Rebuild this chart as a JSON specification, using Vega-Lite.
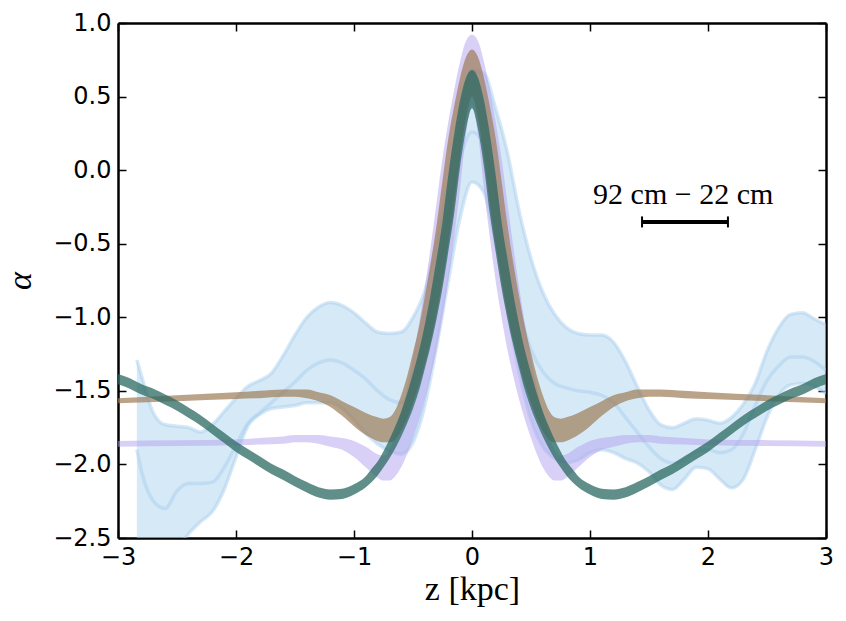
{
  "$schema": "https://vega.github.io/schema/vega-lite/v6.json",
  "width": 708,
  "height": 515,
  "autosize": "none",
  "padding": {"left": 118, "top": 23, "right": 20, "bottom": 83},
  "background": "white",
  "config": {
    "view": {"stroke": null},
    "axis": {
      "zindex": 1,
      "grid": false,
      "domain": true,
      "domainColor": "black",
      "domainWidth": 2.5,
      "ticks": true,
      "tickColor": "black",
      "tickWidth": 1.5,
      "tickSize": -8,
      "labelColor": "black",
      "labelFont": "DejaVu Sans",
      "labelFontSize": 24,
      "labelPadding": 15,
      "labelFlush": false,
      "labelOverlap": false,
      "labelBound": false,
      "titleColor": "black",
      "titleFont": "Liberation Serif",
      "titleFontWeight": "normal"
    }
  },
  "datasets": {
    "blue": [
      {"x": -2.84, "lo": -2.95, "mid": -1.9, "hi": -1.29},
      {"x": -2.8, "lo": -2.9, "mid": -2.05, "hi": -1.4},
      {"x": -2.7, "lo": -2.8, "mid": -2.25, "hi": -1.65},
      {"x": -2.6, "lo": -2.7, "mid": -2.3, "hi": -1.73},
      {"x": -2.5, "lo": -2.58, "mid": -2.18, "hi": -1.74},
      {"x": -2.4, "lo": -2.47, "mid": -2.13, "hi": -1.75},
      {"x": -2.3, "lo": -2.39, "mid": -2.13, "hi": -1.78},
      {"x": -2.2, "lo": -2.32, "mid": -2.12, "hi": -1.73},
      {"x": -2.1, "lo": -2.17, "mid": -2.02, "hi": -1.64},
      {"x": -2.0, "lo": -1.95, "mid": -1.87, "hi": -1.55},
      {"x": -1.9, "lo": -1.74, "mid": -1.72, "hi": -1.47},
      {"x": -1.8, "lo": -1.66, "mid": -1.65, "hi": -1.43},
      {"x": -1.7, "lo": -1.62, "mid": -1.58, "hi": -1.38},
      {"x": -1.6, "lo": -1.61, "mid": -1.51, "hi": -1.26},
      {"x": -1.5, "lo": -1.6, "mid": -1.44, "hi": -1.12},
      {"x": -1.4, "lo": -1.58, "mid": -1.36, "hi": -1.0},
      {"x": -1.3, "lo": -1.58, "mid": -1.31, "hi": -0.93},
      {"x": -1.2, "lo": -1.58, "mid": -1.29, "hi": -0.9},
      {"x": -1.1, "lo": -1.62, "mid": -1.31, "hi": -0.92},
      {"x": -1.0, "lo": -1.7, "mid": -1.36, "hi": -0.97},
      {"x": -0.9, "lo": -1.79, "mid": -1.42, "hi": -1.04},
      {"x": -0.8, "lo": -1.86, "mid": -1.5, "hi": -1.1},
      {"x": -0.7, "lo": -1.91, "mid": -1.56, "hi": -1.11},
      {"x": -0.6, "lo": -1.93, "mid": -1.58, "hi": -1.1},
      {"x": -0.5, "lo": -1.85, "mid": -1.45, "hi": -1.0},
      {"x": -0.4, "lo": -1.6, "mid": -1.15, "hi": -0.82},
      {"x": -0.3, "lo": -1.2, "mid": -0.75, "hi": -0.48},
      {"x": -0.2, "lo": -0.75, "mid": -0.3, "hi": -0.08},
      {"x": -0.1, "lo": -0.32, "mid": 0.08, "hi": 0.38},
      {"x": 0.0, "lo": -0.08, "mid": 0.26, "hi": 0.68},
      {"x": 0.1, "lo": -0.15, "mid": 0.18, "hi": 0.66},
      {"x": 0.2, "lo": -0.5, "mid": -0.15, "hi": 0.42},
      {"x": 0.3, "lo": -0.95, "mid": -0.55, "hi": 0.12},
      {"x": 0.4, "lo": -1.38, "mid": -0.95, "hi": -0.28},
      {"x": 0.5, "lo": -1.7, "mid": -1.22, "hi": -0.6},
      {"x": 0.6, "lo": -1.88, "mid": -1.37, "hi": -0.83},
      {"x": 0.7, "lo": -1.96, "mid": -1.45, "hi": -0.98},
      {"x": 0.8, "lo": -1.99, "mid": -1.48, "hi": -1.07},
      {"x": 0.9, "lo": -1.97, "mid": -1.5, "hi": -1.11},
      {"x": 1.0, "lo": -1.92, "mid": -1.51, "hi": -1.12},
      {"x": 1.1, "lo": -1.9, "mid": -1.53, "hi": -1.12},
      {"x": 1.2, "lo": -1.92, "mid": -1.58, "hi": -1.17},
      {"x": 1.3, "lo": -1.96, "mid": -1.68, "hi": -1.3},
      {"x": 1.4, "lo": -1.99, "mid": -1.78, "hi": -1.47},
      {"x": 1.5, "lo": -2.05, "mid": -1.88, "hi": -1.63},
      {"x": 1.6, "lo": -2.14, "mid": -1.96, "hi": -1.73},
      {"x": 1.7, "lo": -2.17, "mid": -1.99, "hi": -1.75},
      {"x": 1.8, "lo": -2.1, "mid": -1.97, "hi": -1.72},
      {"x": 1.9, "lo": -2.02, "mid": -1.91, "hi": -1.69},
      {"x": 2.0, "lo": -2.03, "mid": -1.9, "hi": -1.7},
      {"x": 2.1, "lo": -2.1, "mid": -1.92, "hi": -1.72},
      {"x": 2.2, "lo": -2.16, "mid": -1.9, "hi": -1.68},
      {"x": 2.3, "lo": -2.1, "mid": -1.79, "hi": -1.59},
      {"x": 2.4, "lo": -1.9, "mid": -1.6, "hi": -1.45},
      {"x": 2.5, "lo": -1.68, "mid": -1.43, "hi": -1.23},
      {"x": 2.6, "lo": -1.53, "mid": -1.33, "hi": -1.07},
      {"x": 2.7, "lo": -1.46, "mid": -1.27, "hi": -0.98},
      {"x": 2.8, "lo": -1.45, "mid": -1.27, "hi": -0.97},
      {"x": 2.9, "lo": -1.47, "mid": -1.3, "hi": -1.01},
      {"x": 3.0, "lo": -1.52, "mid": -1.36, "hi": -1.05}
    ],
    "purple": [
      {"x": -3.0, "lo": -1.88, "hi": -1.84},
      {"x": -2.5, "lo": -1.875, "hi": -1.835},
      {"x": -2.0, "lo": -1.87, "hi": -1.83},
      {"x": -1.8, "lo": -1.865, "hi": -1.82},
      {"x": -1.6, "lo": -1.86, "hi": -1.81},
      {"x": -1.5, "lo": -1.85, "hi": -1.8},
      {"x": -1.4, "lo": -1.85, "hi": -1.8},
      {"x": -1.3, "lo": -1.86, "hi": -1.8},
      {"x": -1.2, "lo": -1.88, "hi": -1.81},
      {"x": -1.1, "lo": -1.9, "hi": -1.82},
      {"x": -1.0, "lo": -1.95, "hi": -1.84},
      {"x": -0.9, "lo": -2.02, "hi": -1.88},
      {"x": -0.8, "lo": -2.09, "hi": -1.93},
      {"x": -0.75, "lo": -2.11, "hi": -1.94},
      {"x": -0.7, "lo": -2.11, "hi": -1.9},
      {"x": -0.65, "lo": -2.08, "hi": -1.8},
      {"x": -0.6, "lo": -2.02, "hi": -1.65},
      {"x": -0.55, "lo": -1.93, "hi": -1.48},
      {"x": -0.5, "lo": -1.82, "hi": -1.28},
      {"x": -0.45, "lo": -1.7, "hi": -1.05},
      {"x": -0.4, "lo": -1.56, "hi": -0.8},
      {"x": -0.35, "lo": -1.4, "hi": -0.52},
      {"x": -0.3, "lo": -1.22, "hi": -0.22},
      {"x": -0.25, "lo": -1.0, "hi": 0.08},
      {"x": -0.2, "lo": -0.75, "hi": 0.33},
      {"x": -0.15, "lo": -0.45, "hi": 0.55},
      {"x": -0.1, "lo": -0.12, "hi": 0.74},
      {"x": -0.05, "lo": 0.25, "hi": 0.88},
      {"x": 0.0, "lo": 0.45, "hi": 0.92},
      {"x": 0.05, "lo": 0.25, "hi": 0.88},
      {"x": 0.1, "lo": -0.12, "hi": 0.74},
      {"x": 0.15, "lo": -0.45, "hi": 0.55},
      {"x": 0.2, "lo": -0.75, "hi": 0.33},
      {"x": 0.25, "lo": -1.0, "hi": 0.08},
      {"x": 0.3, "lo": -1.22, "hi": -0.22},
      {"x": 0.35, "lo": -1.4, "hi": -0.52},
      {"x": 0.4, "lo": -1.56, "hi": -0.8},
      {"x": 0.45, "lo": -1.7, "hi": -1.05},
      {"x": 0.5, "lo": -1.82, "hi": -1.28},
      {"x": 0.55, "lo": -1.93, "hi": -1.48},
      {"x": 0.6, "lo": -2.02, "hi": -1.65},
      {"x": 0.65, "lo": -2.08, "hi": -1.8},
      {"x": 0.7, "lo": -2.11, "hi": -1.9},
      {"x": 0.75, "lo": -2.11, "hi": -1.94},
      {"x": 0.8, "lo": -2.09, "hi": -1.93},
      {"x": 0.9, "lo": -2.02, "hi": -1.88},
      {"x": 1.0, "lo": -1.95, "hi": -1.84},
      {"x": 1.1, "lo": -1.9, "hi": -1.82},
      {"x": 1.2, "lo": -1.88, "hi": -1.81},
      {"x": 1.3, "lo": -1.86, "hi": -1.8},
      {"x": 1.4, "lo": -1.85, "hi": -1.8},
      {"x": 1.5, "lo": -1.85, "hi": -1.8},
      {"x": 1.6, "lo": -1.86, "hi": -1.81},
      {"x": 1.8, "lo": -1.865, "hi": -1.82},
      {"x": 2.0, "lo": -1.87, "hi": -1.83},
      {"x": 2.5, "lo": -1.875, "hi": -1.835},
      {"x": 3.0, "lo": -1.88, "hi": -1.84}
    ],
    "tan": [
      {"x": -3.0, "lo": -1.585, "hi": -1.55},
      {"x": -2.5, "lo": -1.57, "hi": -1.53},
      {"x": -2.0, "lo": -1.555, "hi": -1.51},
      {"x": -1.8, "lo": -1.55, "hi": -1.5},
      {"x": -1.6, "lo": -1.54, "hi": -1.49},
      {"x": -1.5, "lo": -1.54, "hi": -1.49},
      {"x": -1.4, "lo": -1.55, "hi": -1.49},
      {"x": -1.3, "lo": -1.57, "hi": -1.51},
      {"x": -1.2, "lo": -1.61, "hi": -1.53},
      {"x": -1.1, "lo": -1.67, "hi": -1.57},
      {"x": -1.0, "lo": -1.74, "hi": -1.61},
      {"x": -0.9, "lo": -1.8, "hi": -1.65},
      {"x": -0.8, "lo": -1.84, "hi": -1.68},
      {"x": -0.75, "lo": -1.85, "hi": -1.69},
      {"x": -0.7, "lo": -1.85, "hi": -1.68},
      {"x": -0.65, "lo": -1.83, "hi": -1.63},
      {"x": -0.6, "lo": -1.77, "hi": -1.53},
      {"x": -0.55, "lo": -1.69, "hi": -1.4},
      {"x": -0.5, "lo": -1.58, "hi": -1.24},
      {"x": -0.45, "lo": -1.46, "hi": -1.07},
      {"x": -0.4, "lo": -1.32, "hi": -0.86},
      {"x": -0.35, "lo": -1.16, "hi": -0.63},
      {"x": -0.3, "lo": -0.97, "hi": -0.37},
      {"x": -0.25, "lo": -0.75, "hi": -0.07},
      {"x": -0.2, "lo": -0.5, "hi": 0.22},
      {"x": -0.15, "lo": -0.22, "hi": 0.44},
      {"x": -0.1, "lo": 0.1, "hi": 0.63},
      {"x": -0.05, "lo": 0.36, "hi": 0.77},
      {"x": 0.0, "lo": 0.5, "hi": 0.82},
      {"x": 0.05, "lo": 0.36, "hi": 0.77},
      {"x": 0.1, "lo": 0.1, "hi": 0.63},
      {"x": 0.15, "lo": -0.22, "hi": 0.44},
      {"x": 0.2, "lo": -0.5, "hi": 0.22},
      {"x": 0.25, "lo": -0.75, "hi": -0.07},
      {"x": 0.3, "lo": -0.97, "hi": -0.37},
      {"x": 0.35, "lo": -1.16, "hi": -0.63},
      {"x": 0.4, "lo": -1.32, "hi": -0.86},
      {"x": 0.45, "lo": -1.46, "hi": -1.07},
      {"x": 0.5, "lo": -1.58, "hi": -1.24},
      {"x": 0.55, "lo": -1.69, "hi": -1.4},
      {"x": 0.6, "lo": -1.77, "hi": -1.53},
      {"x": 0.65, "lo": -1.83, "hi": -1.63},
      {"x": 0.7, "lo": -1.85, "hi": -1.68},
      {"x": 0.75, "lo": -1.85, "hi": -1.69},
      {"x": 0.8, "lo": -1.84, "hi": -1.68},
      {"x": 0.9, "lo": -1.8, "hi": -1.65},
      {"x": 1.0, "lo": -1.74, "hi": -1.61},
      {"x": 1.1, "lo": -1.67, "hi": -1.57},
      {"x": 1.2, "lo": -1.61, "hi": -1.53},
      {"x": 1.3, "lo": -1.57, "hi": -1.51},
      {"x": 1.4, "lo": -1.55, "hi": -1.49},
      {"x": 1.5, "lo": -1.54, "hi": -1.49},
      {"x": 1.6, "lo": -1.54, "hi": -1.49},
      {"x": 1.8, "lo": -1.55, "hi": -1.5},
      {"x": 2.0, "lo": -1.555, "hi": -1.51},
      {"x": 2.5, "lo": -1.57, "hi": -1.53},
      {"x": 3.0, "lo": -1.585, "hi": -1.55}
    ],
    "teal": [
      {"x": -3.0, "lo": -1.455, "hi": -1.385},
      {"x": -2.9, "lo": -1.485, "hi": -1.415},
      {"x": -2.8, "lo": -1.525, "hi": -1.455},
      {"x": -2.7, "lo": -1.555, "hi": -1.485},
      {"x": -2.6, "lo": -1.595, "hi": -1.525},
      {"x": -2.5, "lo": -1.635, "hi": -1.565},
      {"x": -2.4, "lo": -1.685, "hi": -1.615},
      {"x": -2.3, "lo": -1.735, "hi": -1.665},
      {"x": -2.2, "lo": -1.795, "hi": -1.725},
      {"x": -2.1, "lo": -1.855, "hi": -1.785},
      {"x": -2.0, "lo": -1.915, "hi": -1.845},
      {"x": -1.9, "lo": -1.965, "hi": -1.895},
      {"x": -1.8, "lo": -2.015, "hi": -1.945},
      {"x": -1.7, "lo": -2.065, "hi": -1.995},
      {"x": -1.6, "lo": -2.105, "hi": -2.035},
      {"x": -1.5, "lo": -2.15, "hi": -2.08},
      {"x": -1.4, "lo": -2.19, "hi": -2.12},
      {"x": -1.3, "lo": -2.225, "hi": -2.155},
      {"x": -1.2, "lo": -2.24, "hi": -2.17},
      {"x": -1.1, "lo": -2.235, "hi": -2.165},
      {"x": -1.0, "lo": -2.205, "hi": -2.135},
      {"x": -0.9, "lo": -2.155, "hi": -2.08},
      {"x": -0.85, "lo": -2.12, "hi": -2.03},
      {"x": -0.8, "lo": -2.075, "hi": -1.98},
      {"x": -0.75, "lo": -2.02, "hi": -1.91},
      {"x": -0.7, "lo": -1.96, "hi": -1.83},
      {"x": -0.65, "lo": -1.89, "hi": -1.74},
      {"x": -0.6, "lo": -1.81, "hi": -1.64},
      {"x": -0.55, "lo": -1.72, "hi": -1.52},
      {"x": -0.5, "lo": -1.62, "hi": -1.38},
      {"x": -0.45, "lo": -1.5, "hi": -1.23},
      {"x": -0.4, "lo": -1.35, "hi": -1.05},
      {"x": -0.35, "lo": -1.19, "hi": -0.84},
      {"x": -0.3, "lo": -1.01, "hi": -0.6},
      {"x": -0.25, "lo": -0.8, "hi": -0.35},
      {"x": -0.2, "lo": -0.55, "hi": -0.03},
      {"x": -0.15, "lo": -0.29, "hi": 0.25},
      {"x": -0.1, "lo": 0.03, "hi": 0.48},
      {"x": -0.05, "lo": 0.28, "hi": 0.63},
      {"x": 0.0, "lo": 0.42, "hi": 0.68},
      {"x": 0.05, "lo": 0.28, "hi": 0.63},
      {"x": 0.1, "lo": 0.03, "hi": 0.48},
      {"x": 0.15, "lo": -0.29, "hi": 0.25},
      {"x": 0.2, "lo": -0.55, "hi": -0.03},
      {"x": 0.25, "lo": -0.8, "hi": -0.35},
      {"x": 0.3, "lo": -1.01, "hi": -0.6},
      {"x": 0.35, "lo": -1.19, "hi": -0.84},
      {"x": 0.4, "lo": -1.35, "hi": -1.05},
      {"x": 0.45, "lo": -1.5, "hi": -1.23},
      {"x": 0.5, "lo": -1.62, "hi": -1.38},
      {"x": 0.55, "lo": -1.72, "hi": -1.52},
      {"x": 0.6, "lo": -1.81, "hi": -1.64},
      {"x": 0.65, "lo": -1.89, "hi": -1.74},
      {"x": 0.7, "lo": -1.96, "hi": -1.83},
      {"x": 0.75, "lo": -2.02, "hi": -1.91},
      {"x": 0.8, "lo": -2.075, "hi": -1.98},
      {"x": 0.85, "lo": -2.12, "hi": -2.03},
      {"x": 0.9, "lo": -2.155, "hi": -2.08},
      {"x": 1.0, "lo": -2.205, "hi": -2.135},
      {"x": 1.1, "lo": -2.235, "hi": -2.165},
      {"x": 1.2, "lo": -2.24, "hi": -2.17},
      {"x": 1.3, "lo": -2.225, "hi": -2.155},
      {"x": 1.4, "lo": -2.19, "hi": -2.12},
      {"x": 1.5, "lo": -2.15, "hi": -2.08},
      {"x": 1.6, "lo": -2.105, "hi": -2.035},
      {"x": 1.7, "lo": -2.065, "hi": -1.995},
      {"x": 1.8, "lo": -2.015, "hi": -1.945},
      {"x": 1.9, "lo": -1.965, "hi": -1.895},
      {"x": 2.0, "lo": -1.915, "hi": -1.845},
      {"x": 2.1, "lo": -1.855, "hi": -1.785},
      {"x": 2.2, "lo": -1.795, "hi": -1.725},
      {"x": 2.3, "lo": -1.735, "hi": -1.665},
      {"x": 2.4, "lo": -1.685, "hi": -1.615},
      {"x": 2.5, "lo": -1.635, "hi": -1.565},
      {"x": 2.6, "lo": -1.595, "hi": -1.525},
      {"x": 2.7, "lo": -1.555, "hi": -1.485},
      {"x": 2.8, "lo": -1.525, "hi": -1.455},
      {"x": 2.9, "lo": -1.485, "hi": -1.415},
      {"x": 3.0, "lo": -1.455, "hi": -1.385}
    ],
    "label": [
      {"x": 1.79, "y": -0.172, "text": "92 cm − 22 cm"}
    ],
    "bar": [
      {"x1": 1.441, "x2": 2.169, "y": -0.352}
    ],
    "caps": [
      {"x": 1.441, "y": -0.352},
      {"x": 2.169, "y": -0.352}
    ]
  },
  "resolve": {"axis": {"x": "independent", "y": "independent"}},
  "layer": [
    {
      "data": {"name": "blue"},
      "mark": {"type": "area", "interpolate": "monotone", "color": "#aed3ef", "opacity": 0.5, "clip": true},
      "encoding": {
        "x": {
          "field": "x", "type": "quantitative",
          "scale": {"domain": [-3, 3], "nice": false, "zero": false},
          "axis": {"values": [-3, -2, -1, 0, 1, 2, 3], "format": "d", "title": "z [kpc]", "titleFontSize": 34, "titlePadding": 3}
        },
        "y": {
          "field": "hi", "type": "quantitative",
          "scale": {"domain": [-2.5, 1], "nice": false, "zero": false},
          "axis": {"values": [-2.5, -2, -1.5, -1, -0.5, 0, 0.5, 1], "format": ".1f", "title": "α", "titleFontSize": 34, "titleFontStyle": "italic", "titlePadding": 15}
        },
        "y2": {"field": "lo"}
      }
    },
    {
      "data": {"name": "blue"},
      "transform": [{"fold": ["lo", "mid", "hi"], "as": ["edge", "val"]}],
      "mark": {"type": "line", "interpolate": "monotone", "color": "#a5cdee", "opacity": 0.45, "strokeWidth": 3.5, "clip": true},
      "encoding": {
        "x": {"field": "x", "type": "quantitative", "axis": null},
        "y": {"field": "val", "type": "quantitative", "axis": null},
        "detail": {"field": "edge"}
      }
    },
    {
      "data": {"name": "purple"},
      "mark": {"type": "area", "interpolate": "monotone", "color": "#b3a1f0", "opacity": 0.5, "clip": true},
      "encoding": {
        "x": {"field": "x", "type": "quantitative", "axis": null},
        "y": {"field": "hi", "type": "quantitative", "axis": null},
        "y2": {"field": "lo"}
      }
    },
    {
      "data": {"name": "tan"},
      "mark": {"type": "area", "interpolate": "monotone", "color": "#9c7c57", "opacity": 0.7, "clip": true},
      "encoding": {
        "x": {"field": "x", "type": "quantitative", "axis": null},
        "y": {"field": "hi", "type": "quantitative", "axis": null},
        "y2": {"field": "lo"}
      }
    },
    {
      "data": {"name": "teal"},
      "mark": {"type": "area", "interpolate": "monotone", "color": "#2b6a62", "opacity": 0.75, "clip": true},
      "encoding": {
        "x": {"field": "x", "type": "quantitative", "axis": null},
        "y": {"field": "hi", "type": "quantitative", "axis": null},
        "y2": {"field": "lo"}
      }
    },
    {
      "data": {"name": "label"},
      "mark": {"type": "text", "font": "Liberation Serif", "fontSize": 30, "color": "black", "align": "center", "baseline": "middle"},
      "encoding": {
        "x": {"field": "x", "type": "quantitative", "axis": null},
        "y": {"field": "y", "type": "quantitative", "axis": null},
        "text": {"field": "text"}
      }
    },
    {
      "data": {"name": "bar"},
      "mark": {"type": "rule", "color": "black", "strokeWidth": 4},
      "encoding": {
        "x": {
          "field": "x1", "type": "quantitative",
          "axis": {"orient": "top", "labels": false, "title": null, "values": [-3, -2, -1, 0, 1, 2, 3]}
        },
        "x2": {"field": "x2"},
        "y": {
          "field": "y", "type": "quantitative",
          "axis": {"orient": "right", "labels": false, "title": null, "values": [-2.5, -2, -1.5, -1, -0.5, 0, 0.5, 1]}
        }
      }
    },
    {
      "data": {"name": "caps"},
      "mark": {"type": "tick", "orient": "vertical", "color": "black", "thickness": 2, "size": 11, "opacity": 1},
      "encoding": {
        "x": {"field": "x", "type": "quantitative", "axis": null},
        "y": {"field": "y", "type": "quantitative", "axis": null}
      }
    }
  ]
}
